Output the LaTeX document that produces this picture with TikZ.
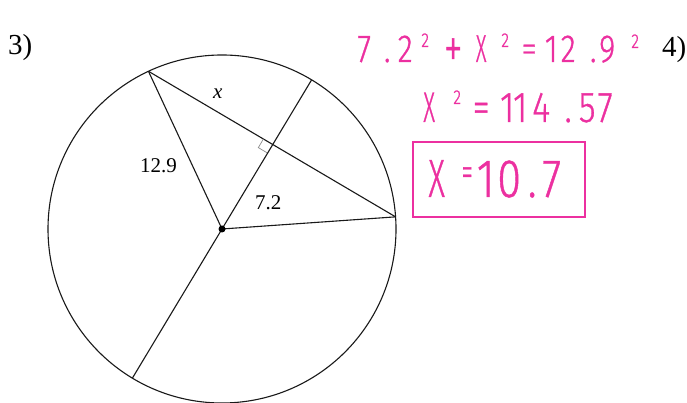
\documentclass[tikz,border=0pt]{standalone}
\usepackage{fontspec}
\usepackage{graphicx}
\usetikzlibrary{calc}
\setmainfont{Liberation Serif}
\newfontfamily\hand[FakeStretch=0.8,FakeBold=0.8,UprightFont=* Light]{Fira Sans}
\definecolor{pinkink}{RGB}{236,48,160}
\newcommand\hwg[1]{\makebox[0pt][c]{#1}}
\newcommand\hws[2]{\makebox[0pt][c]{\raisebox{#1}{\fontsize{20}{22}\selectfont 2}}#2}
\newcommand\hwX{\scalebox{0.66}[1]{X}}
\newcommand\hwXb{\scalebox{0.74}[1]{X}}
\tikzset{
  geo/.style={line width=1.1pt, draw=black!90},
  handtxt/.style={text=pinkink, inner sep=0pt, anchor=base west},
  lbl/.style={inner sep=0pt, anchor=base west, font=\fontsize{21}{24}\selectfont},
  num/.style={inner sep=0pt, anchor=base west, font=\fontsize{29}{32}\selectfont},
  rightmark/.style={draw=black!45, line width=0.7pt},
  answerbox/.style={draw=pinkink, line width=2.6pt, inner sep=0pt},
}
\begin{document}
\begin{tikzpicture}[x=1pt,y=1pt]
\useasboundingbox[fill=white] (0,0) rectangle (687,403);
% circle and its chords
\coordinate (O) at (222,174);
\node[geo, circle, minimum size=348pt, inner sep=0pt, outer sep=0pt] (C) at (O) {};
\coordinate (A) at (C.115.7);
\coordinate (B) at (C.4);
\coordinate (R1) at (C.59.85);
\coordinate (R2) at (C.239.85);
\coordinate (M) at ($(A)!0.5!(B)$);
\draw[geo] (A) -- (B);
\draw[geo] (O) -- (A);
\draw[geo] (O) -- (B);
\draw[geo] (R2) -- (R1);
% right-angle mark
\coordinate (P1) at ($(M)!10pt!(A)$);
\coordinate (P2) at ($(M)!10pt!(O)$);
\draw[rightmark] (P1) -- ($(P1)+(P2)-(M)$) -- (P2);
\node[circle, fill=black, inner sep=0pt, minimum size=7pt] (dot) at (O) {};
% labels
\node[lbl] (l129) at (140,230) {12.9};
\node[lbl] (l72) at (255,193) {7.2};
\node[lbl] (lx) at (213,304) {\textit{x}};
\node[num] (n3) at (8,348) {3)};
\node[num] (n4) at (662,346) {4)};
% handwritten work
\node[handtxt, font=\hand\fontsize{39}{42}\selectfont] (eq1) at (357,341) {\kern7pt\hwg{7}\kern23pt\hwg{.}\kern18pt\hwg{2}\kern20pt\hws{15pt}{}\kern28pt\hwg{\raisebox{-6pt}{\scalebox{1.2}[1.5]{+}}}\kern28pt\hwg{\hwX}\kern24pt\hws{15pt}{}\kern24pt\hwg{=}\kern22pt\hwg{1}\kern17pt\hwg{2}\kern25pt\hwg{.}\kern14pt\hwg{9}\kern28pt\hws{14pt}{}\kern8pt};
\node[handtxt, font=\hand\fontsize{43}{46}\selectfont] (eq2) at (422,281) {\kern7pt\hwg{\hwX}\kern28pt\hws{18pt}{}\kern24pt\hwg{=}\kern26pt\hwg{1}\kern13pt\hwg{1}\kern21pt\hwg{4}\kern27pt\hwg{.}\kern19pt\hwg{5}\kern18pt\hwg{7}\kern8pt};
\node[answerbox, minimum width=172pt, minimum height=75pt] (box) at (499,223.5) {};
\node[handtxt, font=\hand\fontsize{54}{58}\selectfont] (eq3) at (428,206) {\kern8.5pt\hwg{\hwXb}\kern30.5pt\hwg{\raisebox{11pt}{\fontsize{28}{30}\selectfont\scalebox{1}[1.5]{=}}}\kern18.5pt\hwg{1}\kern23.5pt\hwg{0}\kern23pt\hwg{.}\kern19.5pt\hwg{7}\kern12pt};
\end{tikzpicture}
\end{document}
